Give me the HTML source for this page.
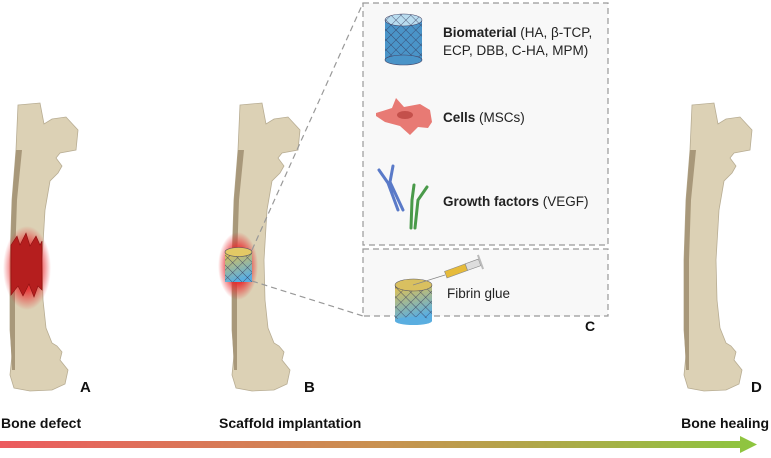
<!DOCTYPE html>
<html><head><meta charset="utf-8"><style>
body{margin:0;background:#fff;}
svg{display:block;font-family:"Liberation Sans",sans-serif;}
</style></head><body>
<svg width="771" height="458" viewBox="0 0 771 458" xmlns="http://www.w3.org/2000/svg">
<defs>
<linearGradient id="arr" x1="0" x2="1"><stop offset="0" stop-color="#ec5b5f"/><stop offset="0.5" stop-color="#c99150"/><stop offset="1" stop-color="#8dc63f"/></linearGradient>
<linearGradient id="scaf" x1="0" y1="0" x2="0.3" y2="1"><stop offset="0" stop-color="#e8c24a"/><stop offset="1" stop-color="#5aaee0"/></linearGradient>
<pattern id="mesh" width="7" height="7" patternUnits="userSpaceOnUse" patternTransform="rotate(45)"><path d="M0 0H7M0 0V7" stroke="#335" stroke-width="0.7" fill="none"/></pattern>
<radialGradient id="glow"><stop offset="0.5" stop-color="#e8262a" stop-opacity="0.9"/><stop offset="1" stop-color="#e8262a" stop-opacity="0"/></radialGradient>
<g id="bone">
<path d="M18,105 L40,103 L44,124 L52,119 L66,117 L78,130 L76,150 L60,153 L56,158 L62,166 L58,173 L50,181 L45,210 L42,260 L43,300 L46,328 L52,343 L57,346 L62,352 L60,360 L68,370 L65,384 L52,390 L30,391 L14,388 L10,375 L12,355 L10,330 L10,260 L12,200 L16,150 Z" fill="#dcd1b5" stroke="#b8ad93" stroke-width="0.8"/>
<path d="M16,150 L22,150 L17,200 L15,260 L15,320 L15,370 L12,370 L10,330 L10,260 L12,200 Z" fill="#a8987a"/>
</g>
</defs>
<use href="#bone"/>
<use href="#bone" x="222"/>
<use href="#bone" x="674"/>
<ellipse cx="27" cy="268" rx="24" ry="42" fill="url(#glow)"/>
<path d="M11,245 L17,236 L20,245 L26,233 L30,246 L36,236 L40,245 L42,241 L42,290 L38,286 L34,297 L29,284 L23,296 L18,286 L11,295 Z" fill="#b51e1e" stroke="#8a1010" stroke-width="0.6"/>
<ellipse cx="238" cy="266" rx="20" ry="34" fill="url(#glow)"/>
<rect x="225" y="252" width="27" height="30" fill="url(#scaf)"/>
<rect x="225" y="252" width="27" height="30" fill="url(#mesh)"/>
<ellipse cx="238.5" cy="252" rx="13.5" ry="4.5" fill="#e3c965" stroke="#556" stroke-width="0.6"/>
<g stroke="#999" stroke-width="1.2" stroke-dasharray="6,4" fill="none">
<line x1="252" y1="250" x2="363" y2="3"/>
<line x1="252" y1="281" x2="363" y2="316"/>
<rect x="363" y="3" width="245" height="242" fill="#f8f8f8"/>
<rect x="363" y="249" width="245" height="67" fill="#f8f8f8"/>
</g>
<rect x="385" y="20" width="37" height="40" fill="#4a94c8"/>
<rect x="385" y="20" width="37" height="40" fill="url(#mesh)"/>
<ellipse cx="403.5" cy="60" rx="18.5" ry="5" fill="#4a94c8" stroke="#446" stroke-width="0.6"/>
<ellipse cx="403.5" cy="20" rx="18.5" ry="6" fill="#b8dcef" stroke="#446" stroke-width="0.6"/>
<ellipse cx="403.5" cy="20" rx="18.5" ry="6" fill="url(#mesh)"/>
<text x="443" y="37" font-size="13.5" fill="#222"><tspan font-weight="bold">Biomaterial</tspan> (HA, β-TCP,</text>
<text x="443" y="55" font-size="13.5" fill="#222">ECP, DBB, C-HA, MPM)</text>
<path d="M376,113 L392,108 L396,98 L404,107 L420,104 L430,110 L432,122 L428,128 L418,127 L410,135 L400,126 L385,122 L376,116 Z" fill="#e87a74"/>
<ellipse cx="405" cy="115" rx="8" ry="4" fill="#c4504b"/>
<text x="443" y="122" font-size="13.5" fill="#222"><tspan font-weight="bold">Cells</tspan> (MSCs)</text>
<g stroke-width="3" stroke-linecap="round" fill="none">
<path d="M379,170 L388,183 L398,210 M393,166 L390,182 L403,210" stroke="#5a7ac8"/>
<path d="M414,185 L412,200 L411,228 M427,187 L418,200 L415,228" stroke="#4a9a4a"/>
</g>
<text x="443" y="206" font-size="13.5" fill="#222"><tspan font-weight="bold">Growth factors</tspan> (VEGF)</text>
<rect x="395" y="285" width="37" height="36" fill="url(#scaf)"/>
<rect x="395" y="285" width="37" height="36" fill="url(#mesh)"/>
<ellipse cx="413.5" cy="321" rx="18.5" ry="4" fill="#5aaee0"/>
<ellipse cx="413.5" cy="285" rx="18.5" ry="6" fill="#d9c060" stroke="#556" stroke-width="0.6"/>
<line x1="413" y1="285" x2="445" y2="275" stroke="#888" stroke-width="0.8"/>
<g transform="rotate(-20 460 270)">
<rect x="445" y="266" width="22" height="7" fill="#e6bb3a" stroke="#888" stroke-width="0.6"/>
<rect x="467" y="266" width="14" height="7" fill="#ddd" stroke="#888" stroke-width="0.6"/>
<rect x="481" y="262" width="2" height="15" fill="#bbb"/>
</g>
<text x="447" y="298" font-size="13.5" fill="#222">Fibrin glue</text>
<text x="585" y="331" font-size="14" font-weight="bold" fill="#111">C</text>
<text x="80" y="392" font-size="15" font-weight="bold" fill="#111">A</text>
<text x="304" y="392" font-size="15" font-weight="bold" fill="#111">B</text>
<text x="751" y="392" font-size="15" font-weight="bold" fill="#111">D</text>
<text x="1" y="428" font-size="14" font-weight="bold" fill="#111">Bone defect</text>
<text x="219" y="428" font-size="14" font-weight="bold" fill="#111">Scaffold implantation</text>
<text x="769" y="428" font-size="14" font-weight="bold" fill="#111" text-anchor="end">Bone healing</text>
<path d="M0,441 L740,441 L740,436 L757,444.5 L740,453 L740,448 L0,448 Z" fill="url(#arr)"/>
</svg>
</body></html>
